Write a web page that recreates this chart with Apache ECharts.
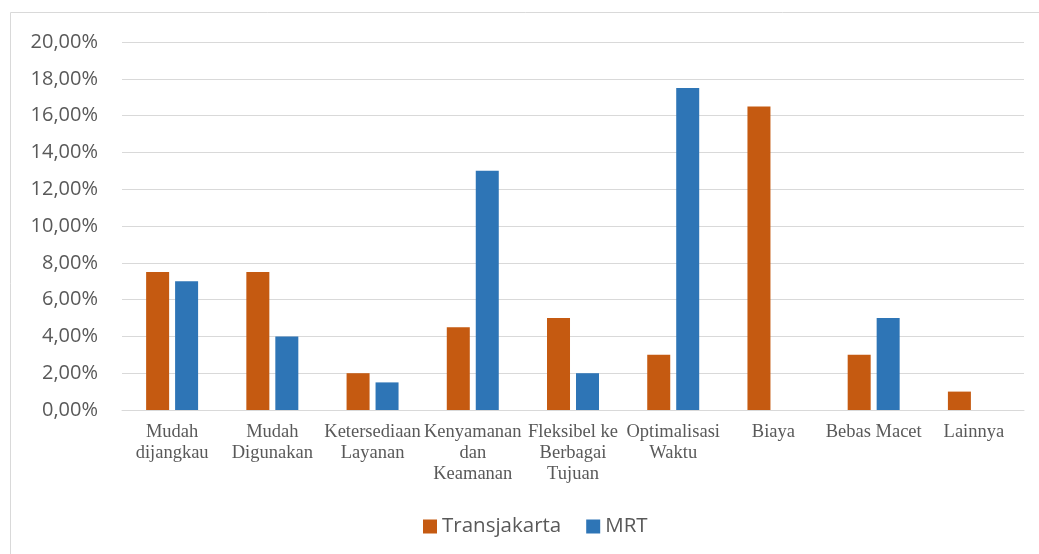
<!DOCTYPE html>
<html>
<head>
<meta charset="utf-8">
<script src="https://cdn.jsdelivr.net/npm/echarts@6/dist/echarts.min.js"></script>
<style>
  html, body { margin: 0; padding: 0; background: #fff; }
  #chart { width: 1039px; height: 554px; }
</style>
</head>
<body>
<div id="chart"></div>
<script>
  // kategori alasan
  var categories = [
    'Mudah\ndijangkau',
    'Mudah\nDigunakan',
    'Ketersediaan\nLayanan',
    'Kenyamanan\ndan\nKeamanan',
    'Fleksibel ke\nBerbagai\nTujuan',
    'Optimalisasi\nWaktu',
    'Biaya',
    'Bebas Macet',
    'Lainnya'
  ];
  var transjakarta = [7.5, 7.5, 2.0, 4.5, 5.0, 3.0, 16.5, 3.0, 1.0];
  var mrt = [7.0, 4.0, 1.5, 13.0, 2.0, 17.5, 0, 5.0, 0];

  var chart = echarts.init(document.getElementById('chart'));

  var option = {
    animation: false,
    graphic: [{
      type: 'rect',
      shape: { x: 10.5, y: 12.5, width: 1040, height: 560 },
      style: { fill: 'none', stroke: '#d9d9d9', lineWidth: 1 },
      silent: true
    }],
    grid: { left: 122, right: 15, top: 42, bottom: 144 },
    legend: {
      top: 511,
      left: 418,
      icon: 'rect',
      itemWidth: 14,
      itemHeight: 14,
      itemGap: 25,
      textStyle: { fontFamily: 'Open Sans', fontSize: 20.5, color: '#595959' },
      data: ['Transjakarta', 'MRT']
    },
    xAxis: {
      type: 'category',
      data: categories,
      axisTick: { show: false },
      axisLine: { lineStyle: { color: '#d9d9d9', width: 1 } },
      axisLabel: {
        interval: 0,
        margin: 12,
        fontFamily: 'Liberation Serif',
        fontSize: 18.5,
        lineHeight: 21,
        color: '#595959'
      }
    },
    yAxis: {
      type: 'value',
      min: 0,
      max: 20,
      interval: 2,
      axisLine: { show: false },
      axisTick: { show: false },
      splitLine: { lineStyle: { color: '#d9d9d9', width: 1 } },
      axisLabel: {
        margin: 24,
        fontFamily: 'Open Sans',
        fontSize: 20,
        color: '#595959',
        formatter: function (v) {
          return v.toFixed(2).replace('.', ',') + '%';
        }
      }
    },
    series: [{
      name: 'Transjakarta',
      type: 'bar',
      data: transjakarta,
      barWidth: 23,
      barGap: '26%',
      itemStyle: { color: '#C55A11' }
    }, {
      name: 'MRT',
      type: 'bar',
      data: mrt,
      barWidth: 23,
      itemStyle: { color: '#2E75B6' }
    }]
  };
  chart.setOption(option);
  window.addEventListener('resize', chart.resize);
</script>
</body>
</html>
